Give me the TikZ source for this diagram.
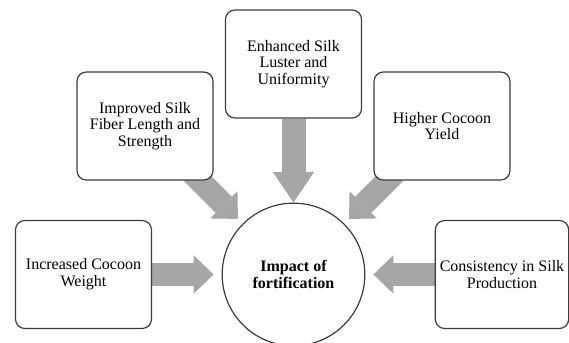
\documentclass[tikz,border=0pt]{standalone}
\usepackage{fontspec}
\setmainfont{Liberation Serif}
\usetikzlibrary{arrows.meta, backgrounds, positioning}
\definecolor{arrowgray}{RGB}{166,166,166}
\definecolor{edgegray}{RGB}{60,60,60}

\tikzset{
  factor/.style={draw=edgegray, line width=0.9pt, rounded corners=7pt, fill=white,
    minimum width=102pt, minimum height=81pt, align=center,
    font=\fontsize{12}{12.5}\selectfont},
  hub/.style={circle, draw=edgegray, line width=0.9pt, fill=white, minimum size=107pt,
    align=center, font=\fontsize{12}{12.5}\selectfont\bfseries},
  blockarrow/.style={draw=arrowgray, line width=17pt,
    -{Triangle[length=15pt, width=29pt, line width=0pt]}},
  longhead/.style={line width=18pt,
    -{Triangle[length=23pt, width=31pt, line width=0pt]}}
}

\begin{document}
\begin{tikzpicture}[x=0.75pt, y=-0.75pt]
  \useasboundingbox (0,0) rectangle (569,343);

  \node[hub] (imp) at (293.5,274.5) {Impact of\\fortification};

  \node[factor] (weight) at (83.5,274.5) {Increased Cocoon\\Weight};
  \node[factor] (fiber) at (145,126) {Improved Silk\\Fiber Length and\\Strength};
  \node[factor] (luster) at (293.5,64) {Enhanced Silk\\Luster and\\Uniformity};
  \node[factor] (yield) at (442,126) {Higher Cocoon\\Yield};
  \node[factor, minimum width=99pt] (consist) at (502,274.5) {Consistency in Silk\\Production};

  % block arrows behind the boxes
  \begin{scope}[on background layer]
    \draw[blockarrow, shorten >=6pt] (weight) -- (imp);
    \draw[blockarrow, shorten >=6pt] (consist) -- (imp);
    \draw[blockarrow, longhead] (luster) -- (imp);
    \draw[blockarrow, shorten >=5pt] (fiber.center) -- (imp);
    \draw[blockarrow, shorten >=5pt] (yield.center) -- (imp);
  \end{scope}
\end{tikzpicture}
\end{document}
